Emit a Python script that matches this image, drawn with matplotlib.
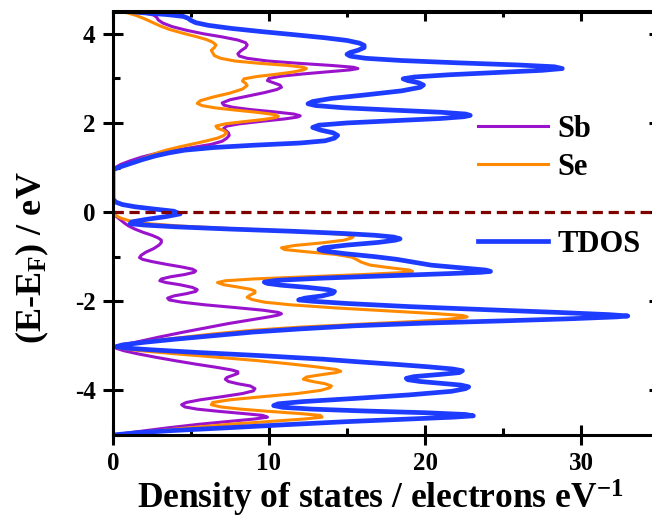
import numpy as np
import matplotlib
matplotlib.use('Agg')
import matplotlib.pyplot as plt
from matplotlib.lines import Line2D
from matplotlib.ticker import FixedLocator

plt.rcParams['font.family'] = 'Liberation Serif'
plt.rcParams['font.weight'] = 'bold'
plt.rcParams['axes.labelweight'] = 'bold'
plt.rcParams['axes.unicode_minus'] = False
plt.rcParams['mathtext.fontset'] = 'custom'
plt.rcParams['mathtext.rm'] = 'Liberation Serif:bold'
plt.rcParams['mathtext.bf'] = 'Liberation Serif:bold'
plt.rcParams['mathtext.it'] = 'Liberation Serif:bold'
plt.rcParams['mathtext.default'] = 'regular'

# TDOS (blue): energy (eV) and density of states
tdos_e = [-5.0, -4.95, -4.9, -4.84, -4.77, -4.7, -4.64, -4.6, -4.57, -4.54, -4.5, -4.46, -4.42,
          -4.38, -4.34, -4.3, -4.25, -4.18, -4.1, -4.02, -3.96, -3.92, -3.88, -3.84, -3.8, -3.76,
          -3.73, -3.69, -3.64, -3.6, -3.56, -3.52, -3.47, -3.42, -3.36, -3.3, -3.22, -3.15, -3.09,
          -3.05, -3.02, -2.98, -2.92, -2.85, -2.77, -2.69, -2.62, -2.55, -2.49, -2.44, -2.39, -2.35,
          -2.33, -2.3, -2.25, -2.19, -2.12, -2.05, -2.0, -1.97, -1.93, -1.88, -1.82, -1.78, -1.74,
          -1.69, -1.64, -1.6, -1.57, -1.53, -1.48, -1.43, -1.38, -1.35, -1.33, -1.3, -1.25, -1.19,
          -1.12, -1.06, -1.0, -0.93, -0.87, -0.84, -0.8, -0.74, -0.68, -0.63, -0.6, -0.56, -0.52,
          -0.48, -0.43, -0.38, -0.33, -0.29, -0.26, -0.22, -0.16, -0.1, -0.04, 0.02, 0.07, 0.12,
          0.17, 0.22, 0.27, 0.3, 0.95, 0.98, 1.03, 1.1, 1.18, 1.26, 1.33, 1.39, 1.45, 1.5, 1.55,
          1.6, 1.66, 1.72, 1.78, 1.84, 1.9, 1.95, 2.0, 2.05, 2.1, 2.14, 2.17, 2.2, 2.24, 2.29,
          2.34, 2.39, 2.43, 2.48, 2.55, 2.63, 2.72, 2.8, 2.85, 2.9, 2.95, 2.99, 3.03, 3.08, 3.13,
          3.18, 3.22, 3.26, 3.3, 3.35, 3.4, 3.45, 3.5, 3.54, 3.58, 3.63, 3.69, 3.74, 3.79, 3.85,
          3.91, 3.98, 4.05, 4.12, 4.19, 4.25, 4.3, 4.35, 4.39, 4.43, 4.47, 4.5]
tdos = [0.0, 1.5, 3.8, 7.2, 11.0, 15.0, 19.0, 21.8, 23.1, 22.6, 20.0, 16.0, 12.8,
        10.9, 10.3, 10.6, 12.2, 15.5, 19.0, 21.7, 22.6, 22.8, 22.3, 21.0, 19.7, 18.9,
        18.8, 19.3, 21.0, 22.2, 22.4, 21.8, 20.2, 18.3, 15.8, 13.5, 9.5, 5.5, 2.5,
        0.8, 0.2, 0.6, 2.0, 4.0, 6.5, 9.0, 12.0, 15.5, 20.0, 25.0, 29.5, 32.3,
        33.0, 31.8, 28.5, 24.0, 19.0, 15.0, 12.8, 11.9, 12.3, 13.4, 14.1, 14.2, 13.8,
        12.5, 10.8, 9.9, 9.7, 10.5, 13.5, 17.5, 21.5, 23.6, 24.2, 23.9, 22.3, 20.4,
        19.2, 18.2, 16.8, 14.8, 13.5, 13.2, 13.5, 15.0, 17.0, 18.1, 18.4, 18.0, 16.8,
        14.8, 11.5, 7.5, 4.0, 2.0, 1.1, 1.2, 2.2, 3.4, 4.3, 3.9, 2.6, 1.4,
        0.6, 0.2, 0.05, 0.0, 0.0, 0.2, 0.6, 1.2, 1.9, 2.7, 3.6, 4.6, 6.5, 9.0, 12.0,
        13.6, 14.2, 14.4, 14.1, 13.3, 12.8, 13.2, 15.0, 18.0, 21.0, 22.5, 22.9, 22.6, 21.0, 17.8,
        14.8, 13.0, 12.5, 12.8, 14.0, 16.2, 18.5, 19.7, 19.9, 19.6, 18.9, 18.6, 19.3, 21.5, 24.5,
        27.5, 28.8, 28.3, 26.0, 22.0, 18.5, 16.2, 15.2, 15.0, 15.2, 15.7, 16.1, 16.1, 15.8, 15.0,
        13.6, 11.6, 9.5, 7.6, 6.1, 5.3, 5.0, 4.8, 4.5, 3.5, 2.0, 1.0]

# Sb partial DOS (purple)
sb_e = [-5.0, -4.92, -4.84, -4.76, -4.69, -4.64, -4.6, -4.56, -4.52, -4.47, -4.42, -4.37, -4.32,
        -4.27, -4.21, -4.14, -4.07, -4.01, -3.96, -3.9, -3.85, -3.8, -3.75, -3.71, -3.66, -3.62,
        -3.58, -3.54, -3.48, -3.41, -3.34, -3.26, -3.18, -3.11, -3.06, -3.03, -3.0, -2.9, -2.8,
        -2.7, -2.6, -2.5, -2.42, -2.35, -2.31, -2.28, -2.25, -2.2, -2.14, -2.08, -2.02, -1.97,
        -1.93, -1.88, -1.83, -1.78, -1.74, -1.69, -1.63, -1.58, -1.54, -1.5, -1.45, -1.4, -1.35,
        -1.32, -1.28, -1.23, -1.17, -1.11, -1.06, -1.02, -0.97, -0.9, -0.82, -0.74, -0.68, -0.63,
        -0.58, -0.52, -0.45, -0.38, -0.31, -0.25, -0.18, -0.11, -0.05, 0.0, 0.95, 1.0, 1.07,
        1.15, 1.23, 1.31, 1.38, 1.45, 1.52, 1.59, 1.66, 1.72, 1.78, 1.84, 1.88, 1.93, 1.98,
        2.04, 2.09, 2.13, 2.16, 2.2, 2.25, 2.3, 2.35, 2.4, 2.45, 2.52, 2.6, 2.68, 2.75, 2.8,
        2.85, 2.9, 2.95, 3.0, 3.05, 3.1, 3.15, 3.19, 3.22, 3.25, 3.29, 3.34, 3.39, 3.45, 3.5,
        3.55, 3.62, 3.69, 3.75, 3.8, 3.86, 3.93, 4.0, 4.08, 4.16, 4.24, 4.31, 4.37, 4.42, 4.46,
        4.5]
sb = [0.0, 1.7, 3.5, 5.5, 7.6, 9.1, 9.9, 9.6, 8.4, 6.8, 5.4, 4.6, 4.4,
      4.7, 5.6, 7.0, 8.3, 9.0, 9.1, 8.8, 8.0, 7.4, 7.2, 7.3, 7.7, 8.0,
      8.0, 7.6, 6.6, 5.3, 4.1, 2.8, 1.6, 0.7, 0.25, 0.1, 0.4, 1.7, 3.0,
      4.4, 5.9, 7.4, 8.8, 10.0, 10.6, 10.8, 10.6, 9.6, 7.8, 5.9, 4.4, 3.6,
      3.5, 3.9, 4.7, 5.3, 5.4, 5.1, 4.3, 3.4, 3.0, 3.1, 3.7, 4.6, 5.2,
      5.3, 5.1, 4.4, 3.4, 2.5, 1.9, 1.7, 1.8, 2.1, 2.6, 2.95, 3.1, 3.1,
      2.9, 2.5, 1.9, 1.4, 1.0, 0.75, 0.5, 0.25, 0.08, 0.0, 0.0, 0.15, 0.5,
      1.1, 1.8, 2.7, 3.8, 5.1, 6.3, 7.0, 7.3, 7.45, 7.4, 7.2, 7.1, 7.3, 8.1,
      9.6, 11.0, 11.8, 12.0, 11.6, 10.3, 8.8, 7.7, 7.1, 7.0, 7.5, 8.6, 9.7, 10.5, 10.8,
      10.7, 10.3, 9.9, 10.0, 10.8, 12.2, 13.9, 15.2, 15.7, 15.4, 14.0, 11.8, 9.9, 8.6, 8.1,
      8.0, 8.2, 8.5, 8.6, 8.5, 8.0, 7.0, 5.8, 4.7, 3.8, 3.2, 2.9, 2.8, 2.6, 2.1,
      1.3]

# Se partial DOS (orange)
se_e = [-5.0, -4.92, -4.84, -4.76, -4.69, -4.64, -4.6, -4.56, -4.52, -4.47, -4.42, -4.37, -4.32,
        -4.27, -4.21, -4.14, -4.07, -4.0, -3.94, -3.9, -3.85, -3.8, -3.75, -3.7, -3.65, -3.6,
        -3.57, -3.53, -3.47, -3.4, -3.33, -3.25, -3.17, -3.1, -3.05, -3.02, -2.97, -2.9, -2.82,
        -2.73, -2.65, -2.58, -2.52, -2.46, -2.41, -2.37, -2.35, -2.32, -2.28, -2.22, -2.15, -2.08,
        -2.02, -1.96, -1.91, -1.86, -1.81, -1.77, -1.73, -1.68, -1.63, -1.58, -1.54, -1.5, -1.45,
        -1.4, -1.36, -1.33, -1.3, -1.25, -1.19, -1.12, -1.06, -1.01, -0.95, -0.89, -0.84, -0.8,
        -0.75, -0.69, -0.63, -0.58, -0.55, -0.51, -0.46, -0.41, -0.36, -0.31, -0.26, -0.2, -0.13,
        -0.06, 0.0, 0.95, 1.0, 1.07, 1.15, 1.23, 1.31, 1.38, 1.45, 1.52, 1.59, 1.66, 1.72, 1.78,
        1.83, 1.88, 1.93, 1.98, 2.03, 2.08, 2.12, 2.15, 2.19, 2.24, 2.29, 2.34, 2.39, 2.44, 2.5,
        2.58, 2.67, 2.76, 2.84, 2.89, 2.94, 2.99, 3.04, 3.09, 3.14, 3.19, 3.22, 3.25, 3.29, 3.34,
        3.39, 3.45, 3.51, 3.57, 3.63, 3.69, 3.75, 3.81, 3.87, 3.94, 4.02, 4.1, 4.18, 4.26, 4.34,
        4.41, 4.46, 4.5]
se = [0.0, 2.4, 4.8, 7.5, 10.3, 12.3, 13.4, 13.3, 12.0, 10.0, 8.2, 6.9, 6.3,
      6.4, 7.5, 9.6, 11.8, 13.3, 13.9, 14.0, 13.6, 12.8, 12.2, 12.4, 13.3, 14.3,
      14.6, 14.3, 13.0, 11.2, 9.2, 6.5, 3.7, 1.5, 0.4, 0.1, 0.6, 2.2, 4.2,
      6.5, 9.0, 12.0, 15.5, 19.0, 21.3, 22.4, 22.7, 22.4, 20.8, 17.8, 14.3, 11.4,
      9.7, 8.9, 8.6, 8.8, 9.1, 9.1, 8.8, 8.0, 7.1, 6.7, 7.2, 9.0, 12.5,
      16.0, 18.4, 19.2, 19.0, 17.8, 16.5, 15.9, 15.6, 15.3, 14.3, 12.4, 11.0, 10.8,
      11.6, 13.4, 14.8, 15.3, 15.4, 15.0, 13.2, 10.2, 7.0, 4.2, 2.3, 1.1, 0.45,
      0.1, 0.0, 0.0, 0.3, 0.9, 1.5, 2.1, 2.7, 3.3, 4.1, 5.0, 5.9, 6.7, 7.1, 7.3,
      7.1, 6.7, 6.6, 7.2, 8.4, 9.7, 10.4, 10.6, 10.3, 9.2, 7.8, 6.5, 5.7, 5.4, 5.6,
      6.4, 7.5, 8.3, 8.6, 8.5, 8.3, 8.4, 9.2, 10.4, 11.5, 12.2, 12.4, 12.2, 11.2, 9.3,
      7.8, 6.9, 6.5, 6.4, 6.3, 6.5, 6.6, 6.4, 6.0, 5.3, 4.4, 3.6, 3.0, 2.5, 2.0,
      1.5, 1.0, 0.6]

fig = plt.figure(figsize=(6.52, 5.22), dpi=100)
ax = fig.add_axes([113 / 652, 87 / 522, 546 / 652, 423.5 / 522])

l_sb, = ax.plot(sb, sb_e, color='#9A12CC', lw=2.2, solid_joinstyle='round')
l_se, = ax.plot(se, se_e, color='#FF8A00', lw=2.2, solid_joinstyle='round')
l_tdos, = ax.plot(tdos, tdos_e, color='#1E3CFF', lw=3.4, solid_joinstyle='round')
ax.axhline(0, color='#800000', lw=2.3, ls=(0, (3.2, 1.8)))

ax.set_xlim(0, 35)
ax.set_ylim(-5, 4.5)
ax.set_xticks([0, 10, 20, 30])
ax.set_yticks([-4, -2, 0, 2, 4])
ax.xaxis.set_minor_locator(FixedLocator([5, 15, 25, 35]))
ax.yaxis.set_minor_locator(FixedLocator([-5, -3, -1, 1, 3]))
ax.tick_params(which='major', direction='inout', length=15, width=2.2, labelsize=18, pad=5)
ax.tick_params(which='minor', direction='in', length=5, width=2.2)
for s in ax.spines.values():
    s.set_linewidth(2.2)

top = ax.secondary_xaxis('top')
top.set_xticks([0, 10, 20, 30])
top.xaxis.set_minor_locator(FixedLocator([5, 15, 25, 35]))
top.tick_params(which='major', direction='in', length=7, width=2.2, labeltop=False)
top.tick_params(which='minor', direction='in', length=4, width=2.2)
top.spines['top'].set_linewidth(2.2)
right = ax.secondary_yaxis('right')
right.set_yticks([-4, -2, 0, 2, 4])
right.yaxis.set_minor_locator(FixedLocator([-5, -3, -1, 1, 3]))
right.tick_params(which='major', direction='in', length=7, width=2.2, labelright=False)
right.tick_params(which='minor', direction='in', length=4, width=2.2)
right.spines['right'].set_linewidth(2.2)

ax.set_xlabel('Density of states / electrons eV$^{-1}$', fontsize=25.5, fontweight='bold')
ax.xaxis.set_label_coords((380 - 113) / 546, -(478 - 435) / 423.5)
ax.set_ylabel('(E-E$_{F}$) / eV', fontsize=26, fontweight='bold')
ax.yaxis.set_label_coords(-(113 - 51) / 546, (435 - 258) / 423.5)

blank = Line2D([], [], color='none')
ax.legend([l_sb, l_se, blank, l_tdos], ['Sb', 'Se', '', 'TDOS'], frameon=False,
          fontsize=22, loc='upper left', bbox_to_anchor=(478 / 652, 1 - 115 / 522),
          bbox_transform=fig.transFigure, borderpad=0, borderaxespad=0,
          handlelength=2.3, handletextpad=0.3, labelspacing=0.3)

fig.savefig('out.png', dpi=100)
